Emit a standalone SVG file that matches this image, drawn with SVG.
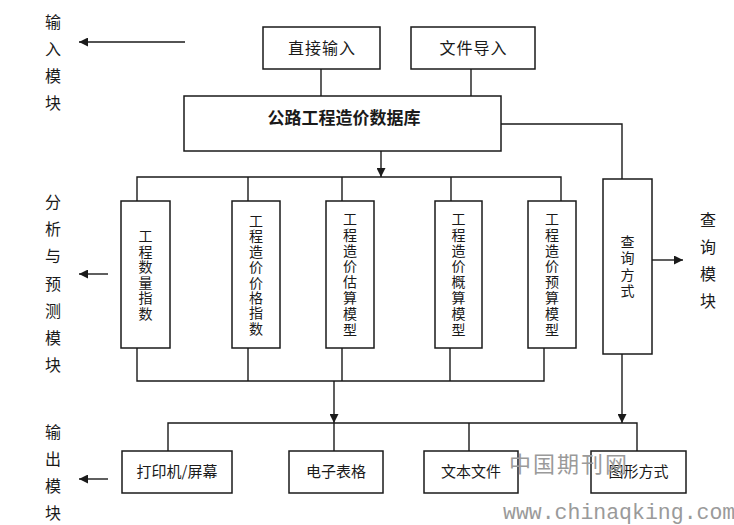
<svg xmlns="http://www.w3.org/2000/svg" width="734" height="525" viewBox="0 0 734 525">
<style>
.box{fill:#fff;stroke:#1a1a1a;stroke-width:1.5}
.ln{fill:none;stroke:#1a1a1a;stroke-width:1.4}
text{font-family:"Noto Sans CJK SC","Liberation Sans",sans-serif;fill:#1a1a1a}
.t{font-size:15px;text-anchor:middle}
.tt{font-size:16px;letter-spacing:1px;text-anchor:middle}
.v{font-size:14px;text-anchor:middle}
.side{font-size:16px;text-anchor:middle}
.wm{fill:#9a9a9a}
</style>
<defs>
<marker id="ah" viewBox="0 0 10 10" refX="10" refY="5" markerWidth="9" markerHeight="9" markerUnits="userSpaceOnUse" orient="auto">
<path d="M0,0 L10,5 L0,10 z" fill="#1a1a1a"/>
</marker>
</defs>
<rect width="734" height="525" fill="#fff"/>
<g id="connectors">
<path class="ln" d="M321,69 V96"/>
<path class="ln" d="M471,69 V96"/>
<path class="ln" d="M501,124 H622 V179"/>
<path class="ln" d="M381,151 V177" marker-end="url(#ah)"/>
<path class="ln" d="M137,201 V177 H561 V201"/>
<path class="ln" d="M248,177 V201 M342,177 V201 M451,177 V201"/>
<path class="ln" d="M137,348 V381 H544 V348"/>
<path class="ln" d="M248,348 V381 M342,348 V381 M450,348 V381"/>
<path class="ln" d="M334,381 V423" marker-end="url(#ah)"/>
<path class="ln" d="M622,354 V423" marker-end="url(#ah)"/>
<path class="ln" d="M168,451 V423 H637 V451"/>
<path class="ln" d="M334,423 V451 M469,423 V451"/>
<path class="ln" d="M185,42 H79" marker-end="url(#ah)"/>
<path class="ln" d="M108,274 H79" marker-end="url(#ah)"/>
<path class="ln" d="M108,479 H79" marker-end="url(#ah)"/>
<path class="ln" d="M652,260 H683" marker-end="url(#ah)"/>
</g>
<g id="n-direct"><rect class="box" x="263" y="27" width="117" height="42"/><text class="tt" x="322" y="54">直接输入</text></g>
<g id="n-file"><rect class="box" x="411" y="27" width="124" height="42"/><text class="tt" x="473.5" y="54">文件导入</text></g>
<g id="n-db"><rect class="box" x="184" y="96" width="317" height="55"/><text class="t" x="344" y="124" style="font-weight:bold;font-size:17px">公路工程造价数据库</text></g>
<g id="n-m1"><rect class="box" x="121" y="201" width="49" height="147"/>
<text class="v"><tspan x="145.5" y="241">工</tspan><tspan x="145.5" dy="15.6">程</tspan><tspan x="145.5" dy="15.6">数</tspan><tspan x="145.5" dy="15.6">量</tspan><tspan x="145.5" dy="15.6">指</tspan><tspan x="145.5" dy="15.6">数</tspan></text></g>
<g id="n-m2"><rect class="box" x="232" y="201" width="48" height="147"/>
<text class="v"><tspan x="256" y="226">工</tspan><tspan x="256" dy="15.4">程</tspan><tspan x="256" dy="15.4">造</tspan><tspan x="256" dy="15.4">价</tspan><tspan x="256" dy="15.4">价</tspan><tspan x="256" dy="15.4">格</tspan><tspan x="256" dy="15.4">指</tspan><tspan x="256" dy="15.4">数</tspan></text></g>
<g id="n-m3"><rect class="box" x="326" y="201" width="48" height="147"/>
<text class="v"><tspan x="350" y="224">工</tspan><tspan x="350" dy="15.8">程</tspan><tspan x="350" dy="15.8">造</tspan><tspan x="350" dy="15.8">价</tspan><tspan x="350" dy="15.8">估</tspan><tspan x="350" dy="15.8">算</tspan><tspan x="350" dy="15.8">模</tspan><tspan x="350" dy="15.8">型</tspan></text></g>
<g id="n-m4"><rect class="box" x="435" y="201" width="47" height="147"/>
<text class="v"><tspan x="458.5" y="224">工</tspan><tspan x="458.5" dy="15.8">程</tspan><tspan x="458.5" dy="15.8">造</tspan><tspan x="458.5" dy="15.8">价</tspan><tspan x="458.5" dy="15.8">概</tspan><tspan x="458.5" dy="15.8">算</tspan><tspan x="458.5" dy="15.8">模</tspan><tspan x="458.5" dy="15.8">型</tspan></text></g>
<g id="n-m5"><rect class="box" x="528" y="201" width="48" height="147"/>
<text class="v"><tspan x="552" y="224">工</tspan><tspan x="552" dy="15.8">程</tspan><tspan x="552" dy="15.8">造</tspan><tspan x="552" dy="15.8">价</tspan><tspan x="552" dy="15.8">预</tspan><tspan x="552" dy="15.8">算</tspan><tspan x="552" dy="15.8">模</tspan><tspan x="552" dy="15.8">型</tspan></text></g>
<g id="n-query"><rect class="box" x="603" y="179" width="49" height="175"/>
<text class="v"><tspan x="627.5" y="247">查</tspan><tspan x="627.5" dy="16.3">询</tspan><tspan x="627.5" dy="16.3">方</tspan><tspan x="627.5" dy="16.3">式</tspan></text></g>
<g id="n-o1"><rect class="box" x="122" y="451" width="110" height="42"/><text class="t" x="177" y="477">打印机/屏幕</text></g>
<g id="n-o2"><rect class="box" x="289" y="451" width="94" height="42"/><text class="t" x="336" y="477">电子表格</text></g>
<g id="n-o3"><rect class="box" x="424" y="451" width="94" height="42"/><text class="t" x="471" y="477">文本文件</text></g>
<g id="n-o4"><rect class="box" x="591" y="451" width="95" height="42"/><text class="t" x="638.5" y="477">图形方式</text></g>
<g id="l-input"><text class="side"><tspan x="53" y="28">输</tspan><tspan x="53" dy="27">入</tspan><tspan x="53" dy="27">模</tspan><tspan x="53" dy="27">块</tspan></text></g>
<g id="l-analysis"><text class="side"><tspan x="53" y="208">分</tspan><tspan x="53" dy="27.2">析</tspan><tspan x="53" dy="27.2">与</tspan><tspan x="53" dy="27.2">预</tspan><tspan x="53" dy="27.2">测</tspan><tspan x="53" dy="27.2">模</tspan><tspan x="53" dy="27.2">块</tspan></text></g>
<g id="l-output"><text class="side"><tspan x="53" y="438">输</tspan><tspan x="53" dy="27">出</tspan><tspan x="53" dy="27">模</tspan><tspan x="53" dy="27">块</tspan></text></g>
<g id="l-query"><text class="side"><tspan x="708" y="226">查</tspan><tspan x="708" dy="27">询</tspan><tspan x="708" dy="27">模</tspan><tspan x="708" dy="27">块</tspan></text></g>
<g id="watermark">
<text class="wm" x="509" y="472" style="font-size:22px;letter-spacing:2px">中国期刊网</text>
<text class="wm" x="503" y="519" style="font-family:'Liberation Mono',monospace;font-size:21.5px">www.chinaqking.com</text>
</g>
</svg>
